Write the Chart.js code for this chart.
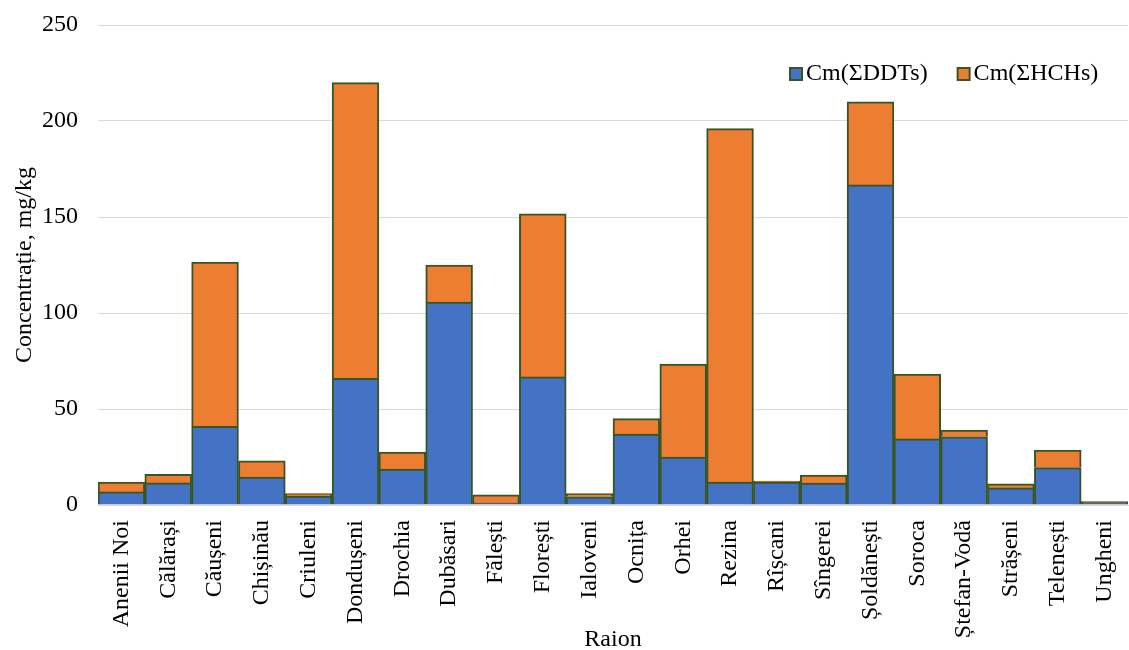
<!DOCTYPE html>
<html><head><meta charset="utf-8">
<script src="https://cdn.jsdelivr.net/npm/chart.js@4.4.0/dist/chart.umd.min.js"></script>
<style>html,body{margin:0;padding:0;background:#fff}#w{width:1129px;height:650px}</style>
</head><body><div id="w"><canvas id="c"></canvas></div>
<script>
const categories = ["Anenii Noi","Călărași","Căușeni","Chișinău","Criuleni","Dondușeni","Drochia","Dubăsari","Fălești","Florești","Ialoveni","Ocnița","Orhei","Rezina","Rîșcani","Sîngerei","Șoldănești","Soroca","Ștefan-Vodă","Strășeni","Telenești","Ungheni"];
const ddts = [6.8,11.5,41,14.6,4.7,66,18.7,105.7,1,66.7,4.3,37,25,12,12,11.4,166.7,34.4,35.5,9,19.5,1.2];
const hchs = [5.2,4.5,85.5,8.4,1.3,154,8.9,19.3,4.3,84.9,1.7,8,48.4,184,0.5,4.2,43.3,33.8,3.5,2,9.1,0.6];
const yTicks = [0,50,100,150,200,250];
const seriesNames = ["Cm(ΣDDTs)","Cm(ΣHCHs)"];
const xTitle = "Raion";
const yTitle = "Concentrație, mg/kg";
const FONT = "'Liberation Serif','Times New Roman',serif";

const legendPlugin = {
  id:'customLegend',
  afterDraw(chart){
    const ctx = chart.ctx;
    ctx.save();
    ctx.font = "24px " + FONT;
    ctx.textBaseline = 'middle';
    const y = 74;
    let x = 790;
    chart.data.datasets.forEach((ds)=>{
      ctx.fillStyle = ds.backgroundColor;
      ctx.fillRect(x, y-6, 12, 12);
      ctx.strokeStyle = ds.borderColor;
      ctx.lineWidth = 2;
      ctx.strokeRect(x, y-6, 12, 12);
      ctx.fillStyle = '#000';
      ctx.fillText(ds.label, x+16, y);
      x += 16 + ctx.measureText(ds.label).width + 30;
    });
    ctx.textAlign = 'center';
    ctx.textBaseline = 'alphabetic';
    ctx.fillText(xTitle, (chart.chartArea.left+chart.chartArea.right)/2, 646);
    ctx.restore();
  }
};

new Chart(document.getElementById('c'), {
  type:'bar',
  data:{
    labels: categories,
    datasets:[
      {label:seriesNames[0], data:ddts, backgroundColor:'#4472c4', borderColor:'#375623', borderWidth:2, barPercentage:1, categoryPercentage:1},
      {label:seriesNames[1], data:hchs, backgroundColor:'#ed7d31', borderColor:'#375623', borderWidth:2, barPercentage:1, categoryPercentage:1}
    ]
  },
  options:{
    responsive:true, maintainAspectRatio:false, animation:false,
    layout:{padding:{top:25, right:1, left:0, bottom:0}},
    plugins:{legend:{display:false}, tooltip:{enabled:false}},
    scales:{
      x:{stacked:true,
        afterFit(ax){ ax.height = 145; ax.paddingRight = 0; ax.paddingLeft = 0; },
        grid:{display:false, drawTicks:false},
        border:{color:'#d9d9d9', width:1},
        ticks:{color:'#000', font:{family:FONT, size:24}, minRotation:90, maxRotation:90, autoSkip:false, padding:15},
        title:{display:false}
      },
      y:{stacked:true, min:0, max:250,
        afterBuildTicks(ax){ ax.ticks = yTicks.map(v=>({value:v})); },
        afterFit(ax){ ax.width = 98; ax.paddingTop = 0; ax.paddingBottom = 0; },
        grid:{color:'#d9d9d9', drawTicks:false},
        border:{display:false},
        ticks:{color:'#000', font:{family:FONT, size:24}, padding:20},
        title:{display:true, text:yTitle, color:'#000', font:{family:FONT, size:24}, padding:{top:10,bottom:0}}
      }
    }
  },
  plugins:[legendPlugin]
});
</script></body></html>
